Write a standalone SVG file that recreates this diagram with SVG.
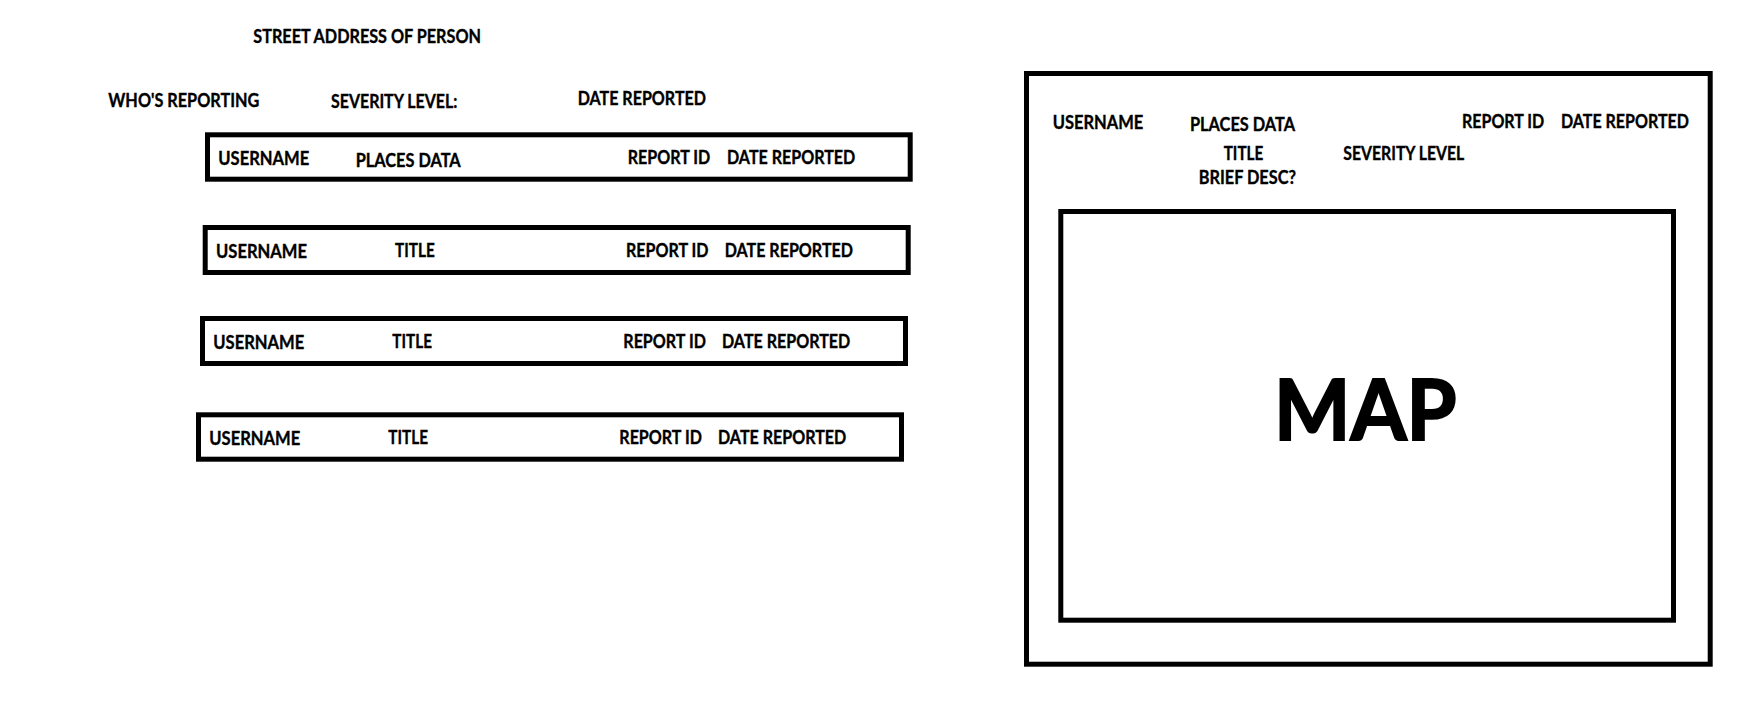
<svg xmlns="http://www.w3.org/2000/svg" width="1762" height="727" viewBox="0 0 1762 727">
<style>
  .bg { fill: #ffffff; }
  .box { fill: none; stroke: #000000; stroke-width: 5; }
  .t { font-family: "Lato", "Liberation Sans", sans-serif; font-weight: bold; font-size: 18px; fill: #000000; stroke: #000000; stroke-width: 0.35px; }
  .big { font-family: "Lato", "Liberation Sans", sans-serif; font-weight: bold; font-size: 85px; fill: #000000; stroke: #000000; stroke-width: 2px; }
</style>
<rect class="bg" x="0" y="0" width="1762" height="727"/>

<g id="header">
  <text class="t" x="253.3" y="43" textLength="227.7" lengthAdjust="spacingAndGlyphs">STREET ADDRESS OF PERSON</text>
  <text class="t" x="108.3" y="106.8" textLength="151" lengthAdjust="spacingAndGlyphs">WHO'S REPORTING</text>
  <text class="t" x="331" y="108" textLength="126.3" lengthAdjust="spacingAndGlyphs">SEVERITY LEVEL:</text>
  <text class="t" x="577.7" y="105" textLength="128.3" lengthAdjust="spacingAndGlyphs">DATE REPORTED</text>
</g>

<g id="row1">
  <rect class="box" x="207.5" y="134.8" width="702.7" height="44.4"/>
  <text class="t" x="218.3" y="164.8" textLength="91" lengthAdjust="spacingAndGlyphs">USERNAME</text>
  <text class="t" x="355.7" y="166.8" textLength="105" lengthAdjust="spacingAndGlyphs">PLACES DATA</text>
  <text class="t" x="627.7" y="164" textLength="82.6" lengthAdjust="spacingAndGlyphs">REPORT ID</text>
  <text class="t" x="727" y="164" textLength="128.3" lengthAdjust="spacingAndGlyphs">DATE REPORTED</text>
</g>

<g id="row2">
  <rect class="box" x="205.2" y="227.5" width="703" height="45"/>
  <text class="t" x="216" y="258" textLength="91" lengthAdjust="spacingAndGlyphs">USERNAME</text>
  <text class="t" x="395" y="256.8" textLength="39.7" lengthAdjust="spacingAndGlyphs">TITLE</text>
  <text class="t" x="626" y="256.8" textLength="82.6" lengthAdjust="spacingAndGlyphs">REPORT ID</text>
  <text class="t" x="724.7" y="256.8" textLength="128.3" lengthAdjust="spacingAndGlyphs">DATE REPORTED</text>
</g>

<g id="row3">
  <rect class="box" x="202.5" y="318.5" width="703" height="45"/>
  <text class="t" x="213.3" y="349" textLength="91" lengthAdjust="spacingAndGlyphs">USERNAME</text>
  <text class="t" x="392.3" y="347.8" textLength="39.7" lengthAdjust="spacingAndGlyphs">TITLE</text>
  <text class="t" x="623.3" y="347.8" textLength="82.6" lengthAdjust="spacingAndGlyphs">REPORT ID</text>
  <text class="t" x="722" y="347.8" textLength="128.3" lengthAdjust="spacingAndGlyphs">DATE REPORTED</text>
</g>

<g id="row4">
  <rect class="box" x="198.5" y="414.8" width="703" height="44.4"/>
  <text class="t" x="209.3" y="445" textLength="91" lengthAdjust="spacingAndGlyphs">USERNAME</text>
  <text class="t" x="388.3" y="443.8" textLength="39.7" lengthAdjust="spacingAndGlyphs">TITLE</text>
  <text class="t" x="619.3" y="443.8" textLength="82.6" lengthAdjust="spacingAndGlyphs">REPORT ID</text>
  <text class="t" x="718" y="443.8" textLength="128.3" lengthAdjust="spacingAndGlyphs">DATE REPORTED</text>
</g>

<g id="detail-panel">
  <rect class="box" x="1026.5" y="73.5" width="683.7" height="590.7"/>
  <text class="t" x="1052.7" y="129" textLength="90.6" lengthAdjust="spacingAndGlyphs">USERNAME</text>
  <text class="t" x="1190" y="131" textLength="105" lengthAdjust="spacingAndGlyphs">PLACES DATA</text>
  <text class="t" x="1462" y="128" textLength="82.3" lengthAdjust="spacingAndGlyphs">REPORT ID</text>
  <text class="t" x="1561" y="128" textLength="128" lengthAdjust="spacingAndGlyphs">DATE REPORTED</text>
  <text class="t" x="1223.7" y="160" textLength="39.6" lengthAdjust="spacingAndGlyphs">TITLE</text>
  <text class="t" x="1343.3" y="160" textLength="121" lengthAdjust="spacingAndGlyphs">SEVERITY LEVEL</text>
  <text class="t" x="1198.7" y="184" textLength="97.3" lengthAdjust="spacingAndGlyphs">BRIEF DESC?</text>
</g>

<g id="map">
  <rect class="box" x="1060.8" y="211.5" width="612.7" height="408.7"/>
  <text class="big" x="1274" y="440" textLength="182.6" lengthAdjust="spacingAndGlyphs">MAP</text>
</g>

<g id="connectors"></g>
</svg>
